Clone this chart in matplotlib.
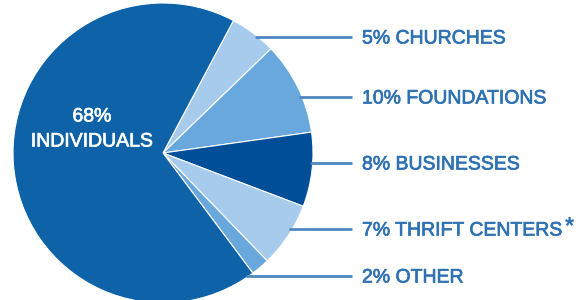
import numpy as np
import matplotlib.pyplot as plt
import matplotlib.patheffects as pe

labels = ['CHURCHES', 'FOUNDATIONS', 'BUSINESSES', 'THRIFT CENTERS', 'OTHER', 'INDIVIDUALS']
shares = [5, 10, 8, 7, 2, 68]
colors = ['#a6cbec', '#68a8dd', '#004e98', '#a6cbec', '#68a8dd', '#0d62a8']

# label rows (pixels from top) for the small slices
label_rows = [37, 97, 163, 229, 276]

W, H = 584, 300
fig = plt.figure(figsize=(W / 100, H / 100), dpi=100)
ax = fig.add_axes([0, 0, 1, 1])

cx, cy, r = 163, H - 153, 150
ax.pie(shares, colors=colors, startangle=62, counterclock=False,
       center=(cx, cy), radius=r, frame=True,
       wedgeprops=dict(edgecolor='white', linewidth=0.8))
ax.set_xlim(0, W)
ax.set_ylim(0, H)
ax.set_aspect('equal')
ax.axis('off')

txt_col = '#2f72b3'
font = dict(family='Liberation Sans', fontsize=14)
for lab, val, row in zip(labels[:-1], shares[:-1], label_rows):
    y = H - row
    x0 = cx + np.sqrt(max(r ** 2 - (y - cy) ** 2, 0)) - 3
    ax.plot([x0, 352], [y, y], color='#4f87c2', lw=2, solid_capstyle='butt')
    t = ax.text(362, y - 2, f'{val}% {lab}', color=txt_col, va='center', ha='left',
                path_effects=[pe.withStroke(linewidth=0.5, foreground=txt_col)], **font)
    if lab == 'THRIFT CENTERS':
        ax.annotate('*', xy=(1, 1), xycoords=t, xytext=(2, -3), textcoords='offset points',
                    color=txt_col, va='center', ha='left', fontweight='bold',
                    family='Liberation Sans', fontsize=17)

white_fx = [pe.withStroke(linewidth=0.5, foreground='white')]
ax.text(92, H - 117, f'{shares[-1]}%', color='white', va='center', ha='center',
        path_effects=white_fx, **font)
ax.text(92, H - 142, labels[-1], color='white', va='center', ha='center',
        path_effects=white_fx, **font)

fig.savefig('out.png', dpi=100)
